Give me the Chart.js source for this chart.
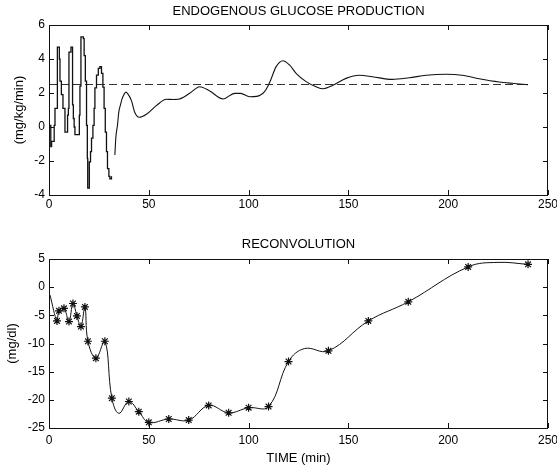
<!DOCTYPE html>
<html>
<head>
<meta charset="utf-8">
<script src="https://cdn.jsdelivr.net/npm/chart.js@4/dist/chart.umd.min.js"></script>
<style>
  html, body { margin: 0; padding: 0; background: #fff; }
  #wrap { position: relative; width: 557px; height: 466px; }
  .panel { position: absolute; left: 0; }
</style>
</head>
<body>
<div id="wrap">
  <div class="panel" style="top:0"><canvas id="egp" width="557" height="225"></canvas></div>
  <div class="panel" style="top:225px"><canvas id="recon" width="557" height="241"></canvas></div>
</div>
<script>
// ---- Endogenous glucose production (mg/kg/min) ----
// early deconvolution estimate, piecewise constant: level starts at each time
const stepTimes  = [0, 0.9, 1.3, 2.6, 3.0, 4.2, 5.2, 5.5, 6.2, 7.0, 8.0, 9.3, 9.7, 10.0, 11.0, 11.8, 12.2, 12.6, 13.0, 15.2, 15.5, 16.0, 17.2, 17.6, 18.2, 18.8, 19.2, 19.4, 20.2, 20.8, 21.3, 22.0, 22.6, 23.0, 23.8, 24.7, 25.5, 26.3, 27.0, 27.6, 28.2, 28.8, 29.3, 30.0, 30.5, 31.3];
const stepValues = [0.1, -1.15, -0.85, 0.1, 1.1, 4.7, 4.0, 2.7, 1.9, 1.1, -0.3, 0.7, 1.1, 4.4, 4.7, 1.3, 0.5, 0.0, -0.45, 0.7, 2.4, 5.3, 5.2, 4.2, 2.7, 0.1, -1.85, -3.6, -2.05, -1.45, -0.65, 0.1, 1.1, 2.3, 3.05, 3.45, 3.55, 3.15, 2.35, 1.1, -0.3, -1.45, -2.45, -2.9, -3.05, -2.9];
// later smooth estimate
const tailTimes  = [33.0, 33.5, 34.3, 35.0, 35.8, 36.6, 37.5, 38.5, 39.5, 41.3, 43.0, 45.2, 48.8, 53.8, 58.8, 62.0, 64.7, 70.5, 75.5, 80.5, 87.2, 93.0, 96.0, 100.5, 104.0, 108.0, 110.5, 113.8, 117.2, 120.5, 123.8, 128.8, 133.8, 137.2, 142.2, 148.8, 155.5, 162.0, 172.0, 180.5, 189.0, 199.0, 207.0, 215.5, 225.5, 232.0, 240.0];
const tailValues = [-1.65, -0.6, 0.1, 0.9, 1.3, 1.65, 1.9, 2.05, 1.95, 1.55, 0.85, 0.57, 0.75, 1.26, 1.63, 1.62, 1.63, 1.98, 2.37, 2.12, 1.65, 1.98, 1.98, 1.78, 1.8, 2.08, 2.6, 3.55, 3.9, 3.65, 3.16, 2.67, 2.37, 2.25, 2.45, 2.86, 3.04, 2.96, 2.8, 2.9, 3.04, 3.1, 3.04, 2.84, 2.65, 2.57, 2.49];
// basal production reference
const basalTimes  = [0, 240];
const basalValues = [2.5, 2.5];

// ---- Reconvolution (mg/dl) ----
const sampleTimes  = [4, 5, 7.5, 10, 12, 14, 16, 18, 19.5, 23.5, 28, 31.5, 40, 45, 50, 60, 70, 80, 90, 100, 110, 120, 140, 160, 180, 210, 240];
const sampleValues = [-6.0, -4.2, -3.75, -6.1, -2.9, -5.1, -7.0, -3.5, -9.6, -12.6, -9.6, -19.7, -20.3, -22.1, -24.0, -23.4, -23.6, -21.0, -22.3, -21.4, -21.2, -13.2, -11.3, -6.0, -2.6, 3.6, 4.05];
const curveTimes  = [0.5, 4, 5, 7.5, 10, 12, 14, 16, 18, 19.5, 23.5, 28, 31.5, 35, 40, 45, 50, 60, 70, 80, 90, 100, 110, 120, 128, 140, 160, 180, 210, 225, 240];
const curveValues = [-1.4, -6.0, -4.2, -3.75, -6.1, -2.9, -5.1, -7.0, -3.5, -9.6, -12.6, -9.6, -19.7, -22.4, -20.3, -22.1, -24.0, -23.4, -23.6, -21.0, -22.3, -21.4, -21.2, -13.2, -10.9, -11.3, -6.0, -2.6, 3.6, 4.4, 4.05];

// axis ticks
const timeTicks  = [0, 50, 100, 150, 200, 250];
const egpTicks   = [-4, -2, 0, 2, 4, 6];
const reconTicks = [-25, -20, -15, -10, -5, 0, 5];

const FONT = "'Liberation Sans', Arial, Helvetica, sans-serif";
Chart.defaults.font.family = FONT;
Chart.defaults.font.size = 12;
Chart.defaults.color = '#000';

const pts = (xs, ys) => xs.map((x, i) => ({ x, y: ys[i] }));

// box, inward tick marks and the panel texts
const framePlugin = {
  id: 'frame',
  afterDraw(chart, args, o) {
    const { ctx, chartArea: a, scales: { x, y } } = chart;
    ctx.save();
    ctx.strokeStyle = '#111';
    ctx.lineWidth = 1;
    ctx.strokeRect(a.left + 0.5, a.top + 0.5, a.right - a.left - 1, a.bottom - a.top);
    ctx.beginPath();
    x.ticks.forEach(t => {
      const px = Math.round(x.getPixelForValue(t.value)) + 0.5;
      ctx.moveTo(px, a.bottom); ctx.lineTo(px, a.bottom - 5);
      ctx.moveTo(px, a.top); ctx.lineTo(px, a.top + 5);
    });
    y.ticks.forEach(t => {
      const py = Math.round(y.getPixelForValue(t.value)) + 0.5;
      ctx.moveTo(a.left, py); ctx.lineTo(a.left + 5, py);
      ctx.moveTo(a.right, py); ctx.lineTo(a.right - 5, py);
    });
    ctx.stroke();

    ctx.fillStyle = '#000';
    ctx.font = '13px ' + FONT;
    ctx.textAlign = 'center';
    ctx.textBaseline = 'middle';
    const cx = (a.left + a.right) / 2;
    ctx.fillText(o.title, cx, o.titleY);
    if (o.xLabel) ctx.fillText(o.xLabel, cx, o.xLabelY);
    ctx.translate(o.yLabelX, (a.top + a.bottom) / 2);
    ctx.rotate(-Math.PI / 2);
    ctx.fillText(o.yLabel, 0, 0);
    ctx.restore();
  }
};

function xScale(height, pad) {
  return {
    type: 'linear', min: 0, max: 250,
    afterBuildTicks: s => { s.ticks = timeTicks.map(v => ({ value: v })); },
    grid: { display: false, drawTicks: false },
    border: { display: false },
    ticks: { padding: pad, color: '#000' },
    afterFit: s => { s.height = height; s.paddingLeft = 0; s.paddingRight = 0; }
  };
}
function yScale(min, max, ticks) {
  return {
    type: 'linear', min, max,
    afterBuildTicks: s => { s.ticks = ticks.map(v => ({ value: v })); },
    grid: { display: false, drawTicks: false },
    border: { display: false },
    ticks: { padding: 4, color: '#000' },
    afterFit: s => { s.width = 49; s.paddingTop = 0; s.paddingBottom = 0; }
  };
}

new Chart(document.getElementById('egp'), {
  type: 'line',
  data: {
    datasets: [
      { data: pts(stepTimes, stepValues), stepped: true, borderColor: '#111', borderWidth: 1.3, pointRadius: 0 },
      { data: pts(tailTimes, tailValues), cubicInterpolationMode: 'monotone', borderColor: '#111', borderWidth: 1.1, pointRadius: 0 },
      { data: pts(basalTimes, basalValues), borderColor: '#333', borderWidth: 1, borderDash: [8, 4], pointRadius: 0 }
    ]
  },
  options: {
    responsive: false, animation: false, devicePixelRatio: 1,
    layout: { padding: { left: 0, right: 9, top: 25, bottom: 0 } },
    scales: { x: xScale(30, 2), y: yScale(-4, 6, egpTicks) },
    plugins: {
      legend: { display: false }, tooltip: { enabled: false },
      frame: { title: 'ENDOGENOUS GLUCOSE PRODUCTION', titleY: 11, yLabel: '(mg/kg/min)', yLabelX: 19 }
    }
  },
  plugins: [framePlugin]
});

new Chart(document.getElementById('recon'), {
  type: 'line',
  data: {
    datasets: [
      { data: pts(curveTimes, curveValues), tension: 0.4, borderColor: '#111', borderWidth: 1, pointRadius: 0 },
      { data: pts(sampleTimes, sampleValues), showLine: false, pointStyle: 'star', pointRadius: 4,
        borderColor: '#111', backgroundColor: '#111', pointBorderWidth: 1.2 }
    ]
  },
  options: {
    responsive: false, animation: false, devicePixelRatio: 1,
    layout: { padding: { left: 0, right: 9, top: 34, bottom: 0 } },
    scales: { x: xScale(38, 5), y: yScale(-25, 5, reconTicks) },
    plugins: {
      legend: { display: false }, tooltip: { enabled: false },
      frame: { title: 'RECONVOLUTION', titleY: 19, xLabel: 'TIME (min)', xLabelY: 233, yLabel: '(mg/dl)', yLabelX: 12.5 }
    }
  },
  plugins: [framePlugin]
});
</script>
</body>
</html>
